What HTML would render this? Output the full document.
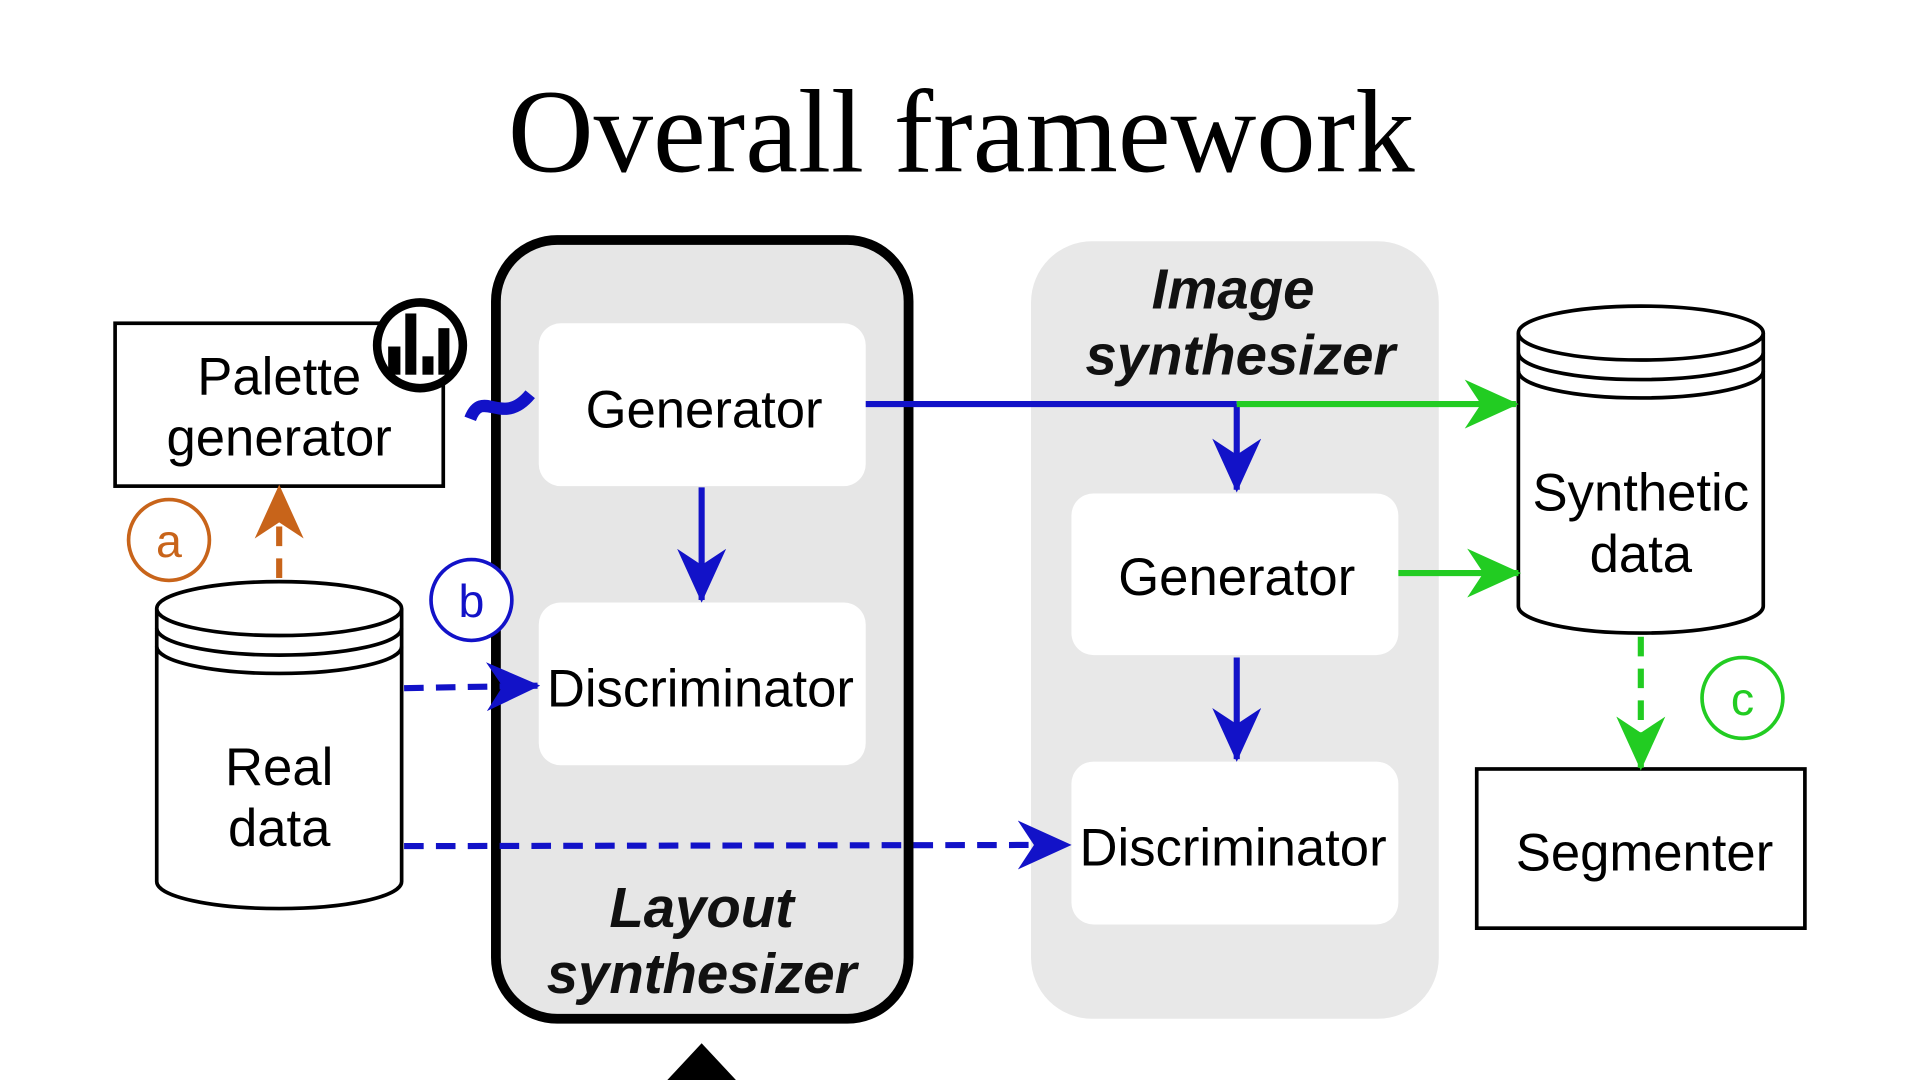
<!DOCTYPE html>
<html><head><meta charset="utf-8"><style>
html,body{margin:0;padding:0;background:#fff;}
svg{display:block;}
.t{font-family:"Liberation Sans",sans-serif;font-size:43px;text-anchor:middle;fill:#000;}
.bi{font-family:"Liberation Sans",sans-serif;font-size:46px;font-weight:bold;font-style:italic;text-anchor:middle;fill:#111;}
</style></head><body>
<svg width="1920" height="1080" viewBox="0 0 1568 882" xmlns="http://www.w3.org/2000/svg">
<defs>
<marker id="ab" markerWidth="44" markerHeight="40" refX="9.5" refY="5" orient="auto" markerUnits="userSpaceOnUse" viewBox="0 0 10 10" preserveAspectRatio="none"><path d="M0,0 L10,5 L0,10 L3,5 Z" fill="#1212c8"/></marker>
<marker id="ag" markerWidth="44" markerHeight="40" refX="9.5" refY="5" orient="auto" markerUnits="userSpaceOnUse" viewBox="0 0 10 10" preserveAspectRatio="none"><path d="M0,0 L10,5 L0,10 L3,5 Z" fill="#22cc22"/></marker>
<marker id="ao" markerWidth="44" markerHeight="40" refX="9.5" refY="5" orient="auto" markerUnits="userSpaceOnUse" viewBox="0 0 10 10" preserveAspectRatio="none"><path d="M0,0 L10,5 L0,10 L3,5 Z" fill="#c8641a"/></marker>
</defs>
<text x="785" y="140" font-family="'Liberation Serif',serif" font-size="97" text-anchor="middle">Overall framework</text>

<rect x="405" y="196" width="337" height="636" rx="50" fill="#e6e6e6" stroke="#000" stroke-width="8"/>
<rect x="842" y="197" width="333" height="635" rx="50" fill="#e8e8e8"/>

<rect x="440" y="264" width="267" height="133" rx="18" fill="#fff"/>
<text class="t" x="575" y="349">Generator</text>
<rect x="440" y="492" width="267" height="133" rx="18" fill="#fff"/>
<text class="t" x="572" y="577">Discriminator</text>
<rect x="875" y="403" width="267" height="132" rx="18" fill="#fff"/>
<text class="t" x="1010" y="486">Generator</text>
<rect x="875" y="622" width="267" height="133" rx="18" fill="#fff"/>
<text class="t" x="1007" y="707">Discriminator</text>

<text class="bi" x="573" y="757">Layout</text>
<text class="bi" x="573" y="811">synthesizer</text>
<text class="bi" x="1007" y="252">Image</text>
<text class="bi" x="1013" y="306">synthesizer</text>

<rect x="94" y="264" width="268" height="133" fill="#fff" stroke="#000" stroke-width="3"/>
<text class="t" x="228" y="322">Palette</text>
<text class="t" x="228" y="372">generator</text>
<circle cx="343" cy="282" r="35" fill="#fff" stroke="#000" stroke-width="7"/>
<rect x="317" y="283" width="10" height="23" fill="#000"/>
<rect x="331" y="256" width="9" height="50" fill="#000"/>
<rect x="345" y="291" width="9" height="15" fill="#000"/>
<rect x="358" y="268" width="9" height="38" fill="#000"/>
<path d="M384,342 C394,316 410,350 433,322" stroke="#1212c8" stroke-width="10" fill="none"/>

<path d="M128,497 L128,720 A100,22 0 0 0 328,720 L328,497" fill="#fff" stroke="#000" stroke-width="3"/>
<ellipse cx="228" cy="497" rx="100" ry="22" fill="#fff" stroke="#000" stroke-width="3"/>
<path d="M128,513 A100,22 0 0 0 328,513 M128,528 A100,22 0 0 0 328,528" fill="none" stroke="#000" stroke-width="3"/>
<text class="t" x="228" y="641">Real</text>
<text class="t" x="228" y="691">data</text>

<path d="M1240,272 L1240,495 A100,22 0 0 0 1440,495 L1440,272" fill="#fff" stroke="#000" stroke-width="3"/>
<ellipse cx="1340" cy="272" rx="100" ry="22" fill="#fff" stroke="#000" stroke-width="3"/>
<path d="M1240,288 A100,22 0 0 0 1440,288 M1240,303 A100,22 0 0 0 1440,303" fill="none" stroke="#000" stroke-width="3"/>
<text class="t" x="1340" y="417">Synthetic</text>
<text class="t" x="1340" y="467">data</text>

<rect x="1206" y="628" width="268" height="130" fill="#fff" stroke="#000" stroke-width="3"/>
<text class="t" x="1343" y="711">Segmenter</text>

<path d="M707,330 L1010,330" stroke="#1212c8" stroke-width="5" fill="none"/>
<path d="M1010,330 L1010,400" stroke="#1212c8" stroke-width="5" fill="none" marker-end="url(#ab)"/>
<path d="M1010,330 L1238,330" stroke="#22cc22" stroke-width="5" fill="none" marker-end="url(#ag)"/>
<path d="M1142,468 L1240,468" stroke="#22cc22" stroke-width="5" fill="none" marker-end="url(#ag)"/>
<path d="M573,398 L573,490" stroke="#1212c8" stroke-width="5" fill="none" marker-end="url(#ab)"/>
<path d="M1010,537 L1010,620" stroke="#1212c8" stroke-width="5" fill="none" marker-end="url(#ab)"/>
<path d="M330,562 L439,560" stroke="#1212c8" stroke-width="5" stroke-dasharray="16,10" fill="none" marker-end="url(#ab)"/>
<path d="M330,691 L873,690" stroke="#1212c8" stroke-width="5" stroke-dasharray="16,10" fill="none" marker-end="url(#ab)"/>
<path d="M228,472 L228,398" stroke="#c8641a" stroke-width="5" stroke-dasharray="16,10" fill="none" marker-end="url(#ao)"/>
<path d="M1340,520 L1340,627" stroke="#22cc22" stroke-width="5" stroke-dasharray="16,10" fill="none" marker-end="url(#ag)"/>

<circle cx="138" cy="441" r="33" fill="#fff" stroke="#c8641a" stroke-width="3"/>
<text x="138" y="455" font-family="'Liberation Sans',sans-serif" font-size="38" text-anchor="middle" fill="#c8641a">a</text>
<circle cx="385" cy="490" r="33" fill="#fff" stroke="#1212c8" stroke-width="3"/>
<text x="385" y="504" font-family="'Liberation Sans',sans-serif" font-size="38" text-anchor="middle" fill="#1212c8">b</text>
<circle cx="1423" cy="570" r="33" fill="#fff" stroke="#22cc22" stroke-width="3"/>
<text x="1423" y="584" font-family="'Liberation Sans',sans-serif" font-size="38" text-anchor="middle" fill="#22cc22">c</text>

<path d="M573,852 L601,882 L545,882 Z" fill="#000"/>
</svg>
</body></html>
